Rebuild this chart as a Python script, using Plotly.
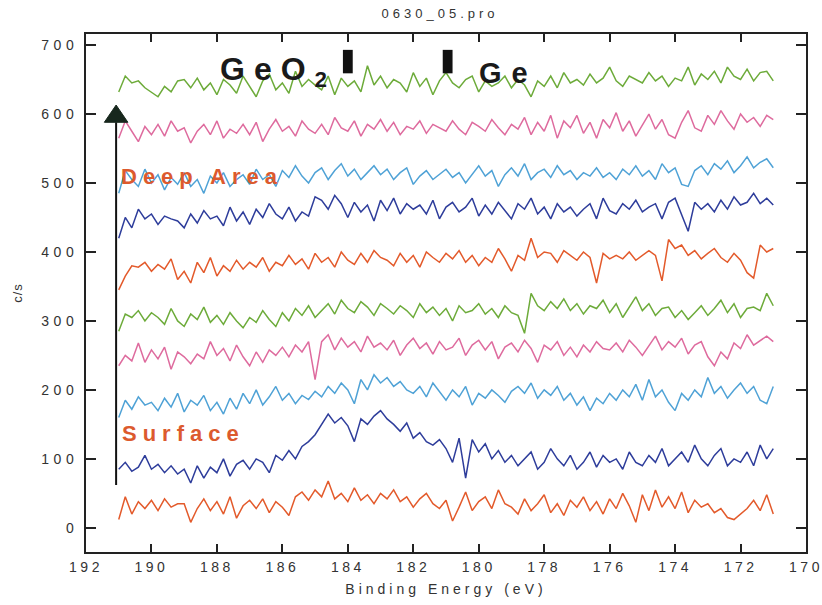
import plotly.graph_objects as go

# Binding energy grid (eV), 191.0 -> 171.0 in 0.2 eV steps
energy = [round(191.0 - 0.2 * i, 1) for i in range(101)]

s1_orange = [12, 45, 20, 38, 28, 40, 25, 42, 30, 35,
             35, 8, 28, 42, 25, 38, 20, 45, 14, 32,
             40, 28, 42, 22, 38, 30, 18, 45, 52, 40,
             55, 45, 68, 42, 50, 38, 58, 40, 48, 35,
             50, 42, 55, 38, 45, 30, 42, 50, 35, 28,
             40, 10, 30, 52, 25, 38, 45, 28, 55, 35,
             30, 20, 42, 25, 35, 48, 22, 35, 18, 40,
             30, 45, 25, 38, 20, 42, 28, 50, 32, 8,
             48, 25, 55, 30, 45, 28, 52, 22, 40, 30,
             35, 22, 28, 15, 12, 20, 28, 40, 25, 48,
             20]
s2_navy = [85, 95, 82, 88, 105, 85, 92, 80, 90, 78,
           85, 65, 90, 72, 88, 80, 100, 75, 92, 98,
           85, 100, 95, 80, 105, 98, 112, 100, 118, 125,
           135, 150, 165, 152, 160, 148, 125, 158, 150, 162,
           170, 158, 150, 140, 152, 130, 138, 125, 120, 128,
           115, 95, 130, 72, 128, 110, 122, 100, 112, 95,
           105, 90, 100, 110, 85, 95, 115, 100, 90, 105,
           85, 95, 110, 88, 105, 95, 100, 85, 110, 95,
           90, 105, 95, 115, 90, 100, 110, 95, 120, 100,
           90, 105, 115, 90, 100, 95, 110, 90, 120, 100,
           115]
s3_lightblue = [160, 185, 172, 190, 178, 182, 170, 188, 175, 195,
                168, 185, 178, 192, 170, 182, 165, 188, 172, 195,
                180, 200, 178, 190, 205, 185, 195, 180, 192, 186,
                198, 190, 205, 195, 210, 200, 180, 215, 200, 222,
                210, 218, 205, 212, 200, 195, 205, 190, 210, 198,
                185, 200, 190, 205, 178, 195, 188, 200, 192, 182,
                198, 205, 195, 210, 188, 200, 192, 205, 185, 195,
                178, 190, 170, 188, 180, 195, 185, 200, 190, 208,
                185, 215, 190, 200, 182, 170, 195, 185, 200, 190,
                218, 195, 205, 188, 200, 210, 195, 205, 185, 180,
                205]
s4_pink = [235, 250, 242, 268, 240, 258, 245, 262, 230, 255,
           248, 238, 252, 245, 270, 250, 260, 242, 265, 248,
           235, 255, 240, 258, 250, 262, 248, 265, 255, 270,
           215, 270, 280, 258, 275, 262, 270, 255, 278, 262,
           268, 258, 272, 250, 265, 275, 260, 268, 252, 270,
           258, 262, 275, 250, 265, 272, 258, 270, 245, 262,
           268, 255, 272, 260, 240, 265, 258, 270, 250, 262,
           248, 265, 255, 270, 260, 258, 268, 255, 272, 262,
           250, 265, 278, 258, 270, 262, 275, 252, 265, 270,
           248, 235, 255, 245, 268, 260, 280, 265, 272, 278,
           270]
s5_green = [285, 310, 305, 315, 300, 312, 305, 295, 318, 300,
            292, 310, 302, 320, 298, 308, 295, 312, 300, 290,
            305, 298, 315, 302, 292, 312, 300, 318, 308, 322,
            305, 315, 325, 310, 330, 318, 312, 328, 320, 308,
            325, 318, 310, 322, 315, 305, 325, 312, 320, 308,
            318, 300, 322, 312, 315, 325, 310, 318, 305, 322,
            312, 308, 282, 340, 322, 315, 328, 318, 332, 315,
            325, 310, 322, 318, 330, 312, 325, 305, 320, 335,
            315, 325, 308, 318, 320, 305, 315, 302, 312, 322,
            308, 318, 330, 312, 325, 305, 318, 320, 315, 340,
            322]
s6_orange = [345, 365, 380, 378, 385, 372, 382, 375, 390, 360,
             372, 355, 385, 370, 392, 365, 380, 372, 388, 375,
             385, 378, 392, 372, 385, 380, 395, 382, 390, 375,
             398, 385, 392, 378, 400, 388, 382, 398, 385, 402,
             392, 388, 380, 398, 385, 395, 378, 400, 392, 385,
             398, 390, 402, 385, 395, 380, 392, 385, 405, 390,
             372, 395, 388, 420, 392, 400, 398, 385, 402, 395,
             388, 400, 392, 355, 398, 390, 395, 390, 400, 388,
             395, 402, 395, 358, 418, 405, 410, 395, 402, 390,
             398, 405, 392, 385, 398, 388, 370, 362, 410, 400,
             405]
s7_navy = [420, 450, 435, 462, 448, 455, 440, 452, 448, 445,
           435, 455, 442, 460, 448, 452, 438, 465, 445, 458,
           440, 462, 450, 470, 455, 448, 465, 445, 458, 452,
           480, 475, 462, 482, 470, 450, 472, 458, 468, 445,
           475, 460, 478, 455, 470, 462, 468, 455, 475, 448,
           465, 472, 458, 465, 478, 452, 468, 455, 472, 460,
           448, 470, 462, 478, 455, 465, 448, 470, 458, 465,
           452, 462, 470, 448, 478, 460, 455, 470, 462, 475,
           458, 465, 470, 448, 472, 478, 455, 430, 472, 462,
           470, 458, 475, 462, 480, 468, 472, 485, 470, 478,
           468]
s8_lightblue = [485, 518, 505, 495, 520, 500, 512, 490, 508, 498,
                515, 495, 505, 485, 510, 500, 515, 495, 505, 512,
                498, 520, 505, 512, 495, 518, 508, 525, 510, 500,
                515, 522, 505, 518, 528, 510, 520, 505, 515, 525,
                512, 520, 505, 515, 522, 498, 510, 518, 505, 512,
                520, 508, 515, 500, 512, 525, 510, 518, 495, 512,
                522, 510, 528, 505, 515, 520, 508, 525, 512, 518,
                505, 515, 510, 522, 508, 515, 505, 520, 512, 525,
                510, 518, 505, 528, 515, 522, 498, 495, 518, 525,
                512, 528, 520, 532, 515, 525, 538, 522, 530, 535,
                522]
s9_pink = [565, 590, 575, 560, 582, 570, 585, 568, 590, 575,
           580, 558, 575, 585, 570, 590, 565, 578, 572, 585,
           570, 588, 560, 578, 592, 575, 582, 568, 590, 578,
           572, 585, 570, 595, 580, 575, 590, 568, 585, 578,
           592, 575, 588, 570, 582, 578, 590, 572, 585, 580,
           575, 590, 578, 570, 588, 582, 575, 592, 580, 570,
           585, 578, 595, 570, 588, 575, 598, 565, 590, 580,
           598, 572, 588, 565, 592, 580, 602, 575, 590, 568,
           585, 600, 578, 592, 570, 565, 588, 605, 580, 575,
           598, 585, 605, 590, 578, 600, 588, 595, 582, 598,
           592]
s10_green = [632, 655, 645, 648, 638, 632, 625, 640, 632, 648,
             650, 638, 652, 635, 645, 628, 650, 642, 630, 655,
             640, 625, 648, 658, 635, 645, 630, 662, 640, 650,
             642, 635, 655, 628, 652, 640, 648, 632, 670, 642,
             655, 638, 650, 645, 632, 660, 640, 652, 628, 648,
             660, 645, 638, 650, 655, 632, 648, 640, 645, 655,
             638, 650, 642, 625, 648, 640, 655, 638, 660, 645,
             650, 642, 658, 645, 652, 668, 648, 640, 655, 650,
             645, 660, 648, 655, 640, 652, 648, 668, 642, 658,
             650, 662, 645, 668, 655, 650, 665, 648, 660, 662,
             648]

series = [s1_orange, s2_navy, s3_lightblue, s4_pink, s5_green,
          s6_orange, s7_navy, s8_lightblue, s9_pink, s10_green]
colors = ["#E35A2B", "#2E3D9B", "#4FA2D6", "#DE6B9E", "#6DAB3A"] * 2

x_ticks = [192, 190, 188, 186, 184, 182, 180, 178, 176, 174, 172, 170]
y_ticks = [0, 100, 200, 300, 400, 500, 600, 700]

marker_energies = [184.0, 180.95]   # GeO2 and Ge reference positions
marker_y = [659, 693]
arrow_x = 191.08
arrow_y = [62, 588, 613]

FONT = "Liberation Sans, Arial, sans-serif"

fig = go.Figure()
for vals, col in zip(series, colors):
    fig.add_trace(go.Scatter(x=energy[:len(vals)], y=vals, mode="lines",
                             line=dict(color=col, width=1.5), showlegend=False))

shapes = []
for e in marker_energies:
    shapes.append(dict(type="rect", xref="x", yref="y", x0=e + 0.15, x1=e - 0.15,
                       y0=marker_y[0], y1=marker_y[1], fillcolor="#111111",
                       line=dict(width=0)))
shapes.append(dict(type="line", xref="x", yref="y", x0=arrow_x, x1=arrow_x,
                   y0=arrow_y[0], y1=arrow_y[1], line=dict(color="#111111", width=2)))
shapes.append(dict(type="path", xref="x", yref="y",
                   path=f"M {arrow_x + 0.36},{arrow_y[1]} L {arrow_x - 0.36},{arrow_y[1]} L {arrow_x},{arrow_y[2]} Z",
                   fillcolor="#17271d", line=dict(color="#17271d", width=1)))

annotations = [
    dict(text="<b>GeO<sub>2</sub></b>", x=187.95, y=662, xref="x", yref="y",
         xanchor="left", yanchor="middle", showarrow=False, borderpad=0,
         font=dict(size=32, color="#1a1a1a", family=FONT)),
    dict(text="<b>Ge</b>", x=180.02, y=660, xref="x", yref="y",
         xanchor="left", yanchor="middle", showarrow=False, borderpad=0,
         font=dict(size=29, color="#1a1a1a", family=FONT)),
    dict(text="<b>Deep Area</b>", x=190.96, y=510, xref="x", yref="y",
         xanchor="left", yanchor="middle", showarrow=False, borderpad=0,
         font=dict(size=22, color="#DC5A2E", family=FONT)),
    dict(text="<b>Surface</b>", x=190.93, y=137, xref="x", yref="y",
         xanchor="left", yanchor="middle", showarrow=False, borderpad=0,
         font=dict(size=22, color="#DC5A2E", family=FONT)),
]

axis_common = dict(showline=True, linecolor="#222222", linewidth=2, mirror="ticks",
                   ticks="inside", tickcolor="#222222", tickwidth=2,
                   showgrid=False, zeroline=False, automargin=False,
                   tickfont=dict(size=14, color="#333333", family=FONT))

fig.update_layout(
    width=822, height=605,
    margin=dict(l=86, r=16, t=34, b=53, autoexpand=False),
    paper_bgcolor="white", plot_bgcolor="white",
    title=dict(text="0630_05.pro", x=0.4917, xref="paper", y=0.977, yref="container",
               xanchor="center", yanchor="middle",
               font=dict(size=13, color="#333333", family=FONT)),
    xaxis=dict(range=[192, 170], tickvals=x_ticks, ticklen=8, ticklabelstandoff=1,
               title=dict(text="Binding Energy (eV)", standoff=10,
                          font=dict(size=14, color="#333333", family=FONT)),
               **axis_common),
    yaxis=dict(range=[-35, 716], tickvals=y_ticks, ticklen=10, ticklabelstandoff=3,
               title=dict(text="c/s", standoff=29,
                          font=dict(size=13, color="#333333", family=FONT)),
               **axis_common),
    shapes=shapes,
    annotations=annotations,
)

post_js = """
document.body.style.margin = '0';
document.body.style.overflow = 'hidden';
var gd = document.getElementById('{plot_id}');
function sp(sel, v){ gd.querySelectorAll(sel).forEach(function(t){ t.style.letterSpacing = v; }); }
sp('.xtick text', '3.5px');
sp('.ytick text', '4.5px');
sp('.gtitle', '4px');
sp('.xtitle', '4px');
sp('.ytitle', '1px');
var vals = ['9px', '10px', '6px', '6px'];
gd.querySelectorAll('.annotation-text').forEach(function(t, i){
  var b0 = t.getBBox();
  t.style.letterSpacing = vals[i] || '0px';
  var b1 = t.getBBox();
  var dx = b0.x - b1.x;
  var tr = t.getAttribute('transform') || '';
  t.setAttribute('transform', tr + ' translate(' + dx + ',0)');
});
"""

fig.write_html("out.html", post_script=post_js, config={"displayModeBar": False})
